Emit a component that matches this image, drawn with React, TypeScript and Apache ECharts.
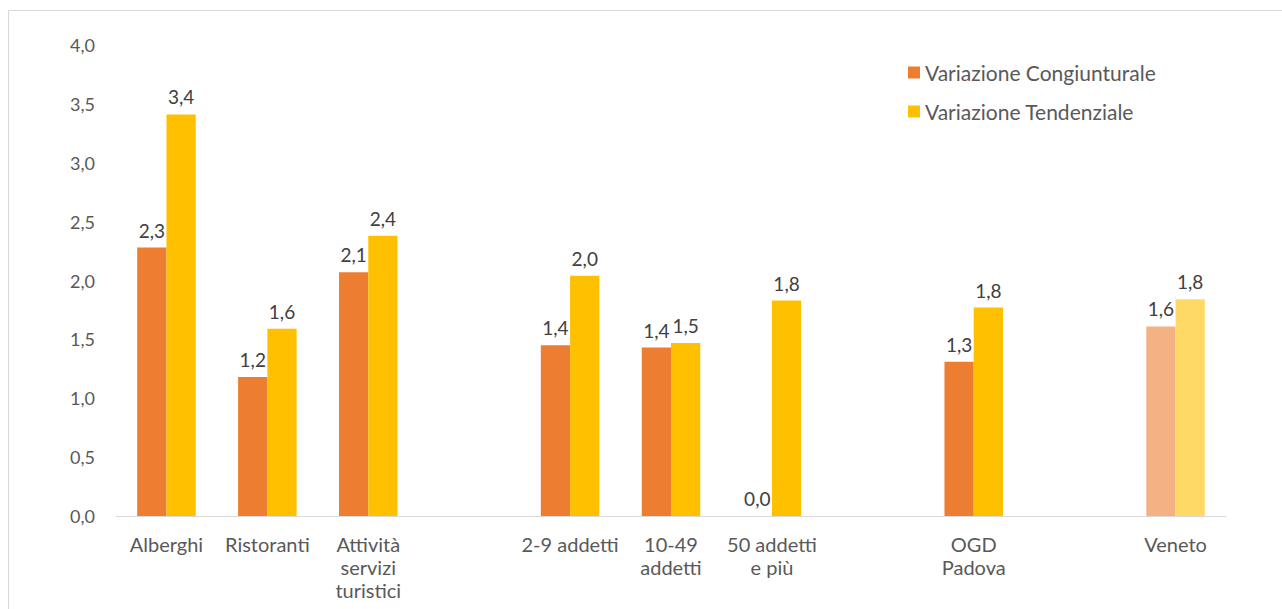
import React, { useEffect, useRef } from "react";
import * as echarts from "echarts";

const categories = [
  "Alberghi",
  "Ristoranti",
  "Attività\nservizi\nturistici",
  "",
  "2-9 addetti",
  "10-49\naddetti",
  "50 addetti\ne più",
  "",
  "OGD\nPadova",
  "",
  "Veneto",
];
const congiunturale: (number | null)[] = [2.28, 1.18, 2.07, null, 1.45, 1.43, 0.0, null, 1.31, null, 1.61];
const tendenziale: (number | null)[] = [3.41, 1.59, 2.38, null, 2.04, 1.47, 1.83, null, 1.77, null, 1.84];
const seriesNames = ["Variazione Congiunturale", "Variazione Tendenziale"];
const highlightCategory = "Veneto";

const FONT = "Lato";

export default function App() {
  const ref = useRef<HTMLDivElement>(null);
  useEffect(() => {
    if (!ref.current) return;
    const chart = echarts.init(ref.current, undefined, { renderer: "svg" });
    const fmt = (v: number) => v.toFixed(1).replace(".", ",");
    const mk = (vals: (number | null)[], light: string) =>
      vals.map((v, i) =>
        v === null
          ? "-"
          : categories[i] === highlightCategory
          ? { value: v, itemStyle: { color: light } }
          : v
      );
    const label = {
      show: true,
      position: "top",
      distance: 8,
      color: "#404040",
      fontFamily: FONT,
      fontSize: 19,
      formatter: (p: any) => fmt(Number(p.value)),
    };
    chart.setOption({
      animation: false,
      backgroundColor: "#ffffff",
      textStyle: { fontFamily: FONT },
      graphic: [
        {
          type: "rect",
          shape: { x: 8.5, y: 10.5, width: 1400, height: 700 },
          style: { fill: "none", stroke: "#d9d9d9", lineWidth: 1 },
          silent: true,
        },
      ],
      legend: {
        orient: "vertical",
        left: 903,
        top: 57,
        itemWidth: 12,
        itemHeight: 12,
        itemGap: 18,
        icon: "rect",
        textStyle: { color: "#595959", fontFamily: FONT, fontSize: 21, lineHeight: 20 },
        data: seriesNames,
      },
      grid: { left: 116, right: 56, top: 45, bottom: 93, containLabel: false },
      xAxis: {
        type: "category",
        data: categories,
        axisLine: { lineStyle: { color: "#d9d9d9", width: 1 } },
        axisTick: { show: false },
        axisLabel: {
          color: "#595959",
          fontFamily: FONT,
          fontSize: 20,
          lineHeight: 23,
          margin: 16,
          interval: 0,
        },
      },
      yAxis: {
        type: "value",
        min: 0,
        max: 4,
        interval: 0.5,
        splitLine: { show: false },
        axisLine: { show: false },
        axisTick: { show: false },
        axisLabel: {
          color: "#595959",
          fontFamily: FONT,
          fontSize: 18,
          margin: 21,
          formatter: (v: number) => fmt(v),
        },
      },
      series: [
        {
          name: seriesNames[0],
          type: "bar",
          data: mk(congiunturale, "#F4B183"),
          itemStyle: { color: "#ED7D31" },
          barGap: "0%",
          barCategoryGap: "42%",
          label,
        },
        {
          name: seriesNames[1],
          type: "bar",
          data: mk(tendenziale, "#FFD966"),
          itemStyle: { color: "#FFC000" },
          barGap: "0%",
          barCategoryGap: "42%",
          label,
        },
      ],
    });
    return () => chart.dispose();
  }, []);
  return (
    <div
      ref={ref}
      style={{ position: "absolute", left: 0, top: 0, width: 1282, height: 609 }}
    />
  );
}
